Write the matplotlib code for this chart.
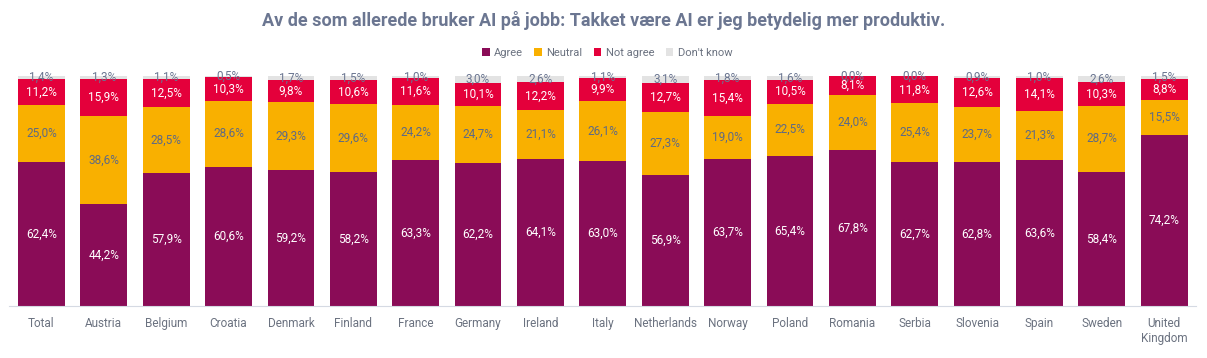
import numpy as np
import matplotlib.pyplot as plt

plt.rcParams['font.family'] = ['Roboto', 'DejaVu Sans']

countries = ['Total', 'Austria', 'Belgium', 'Croatia', 'Denmark', 'Finland', 'France',
             'Germany', 'Ireland', 'Italy', 'Netherlands', 'Norway', 'Poland', 'Romania',
             'Serbia', 'Slovenia', 'Spain', 'Sweden', 'United\nKingdom']
agree = [62.4, 44.2, 57.9, 60.6, 59.2, 58.2, 63.3, 62.2, 64.1, 63.0, 56.9, 63.7, 65.4, 67.8,
         62.7, 62.8, 63.6, 58.4, 74.2]
neutral = [25.0, 38.6, 28.5, 28.6, 29.3, 29.6, 24.2, 24.7, 21.1, 26.1, 27.3, 19.0, 22.5, 24.0,
           25.4, 23.7, 21.3, 28.7, 15.5]
not_agree = [11.2, 15.9, 12.5, 10.3, 9.8, 10.6, 11.6, 10.1, 12.2, 9.9, 12.7, 15.4, 10.5, 8.1,
             11.8, 12.6, 14.1, 10.3, 8.8]
dont_know = [1.4, 1.3, 1.1, 0.5, 1.7, 1.5, 1.0, 3.0, 2.6, 1.1, 3.1, 1.8, 1.6, 0.0,
             0.0, 0.9, 1.0, 2.6, 1.5]

series = [('Agree', agree, '#8A0C57', 'white'),
          ('Neutral', neutral, '#F9B000', '#5E6A85'),
          ('Not agree', not_agree, '#E4003B', 'white'),
          ("Don't know", dont_know, '#E3E3E3', '#6B7691')]

fig = plt.figure(figsize=(12.07, 3.58), dpi=100)
ax = fig.add_axes([9 / 1207, 52 / 358, 1187 / 1207, 230 / 358])

x = np.arange(len(countries))
bottom = np.zeros(len(countries))
for name, vals, color, tcolor in series:
    vals = np.array(vals)
    ax.bar(x, vals, 0.75, bottom=bottom, color=color, label=name, linewidth=0)
    for xi, b, v in zip(x, bottom, vals):
        ax.text(xi, b + v / 2, f'{v:.1f}%'.replace('.', ','), ha='center', va='center',
                color=tcolor, fontsize=8.5)
    bottom += vals

ax.set_xlim(-0.52, len(countries) - 0.49)
ax.set_ylim(0, 100)
ax.set_xticks(x)
ax.set_xticklabels(countries, fontsize=8.5, color='#6B7280')
ax.tick_params(axis='x', length=0, pad=8)
ax.set_yticks([])
for s in ['top', 'left', 'right']:
    ax.spines[s].set_visible(False)
ax.spines['bottom'].set_color('#D5DAE3')

fig.text(0.5, 0.943, 'Av de som allerede bruker AI på jobb: Takket være AI er jeg betydelig mer produktiv.',
         ha='center', va='center', fontsize=13, fontweight='bold', color='#6B7691')
fig.legend(loc='center', bbox_to_anchor=(0.503, 0.853), ncol=4, frameon=False, fontsize=8,
           handlelength=0.7, handleheight=0.7, handletextpad=0.4, columnspacing=1.0,
           labelcolor='#6B7280')

fig.savefig('out.png', dpi=100)
